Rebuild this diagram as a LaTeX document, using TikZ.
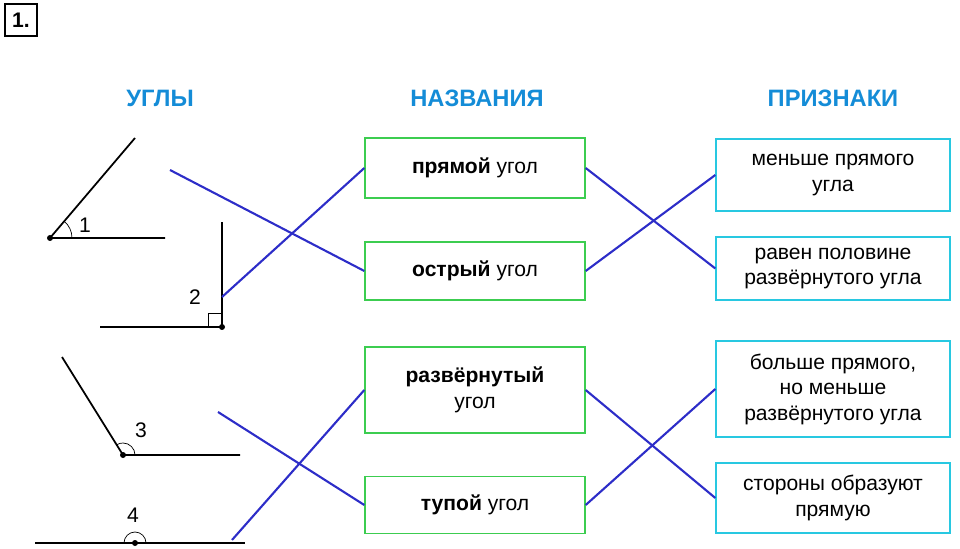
\documentclass[tikz,border=0pt]{standalone}
\usepackage{fontspec}
\setmainfont{Liberation Sans}
\usepackage{xcolor}
\definecolor{hdrblue}{RGB}{20,140,215}
\definecolor{boxgreen}{RGB}{60,205,80}
\definecolor{boxcyan}{RGB}{40,200,225}
\definecolor{linkblue}{RGB}{45,45,200}
\begin{document}
\begin{tikzpicture}[
    x=0.02cm, y=0.02cm,
    font=\fontsize{12}{14.5}\selectfont,
    hdr/.style={font=\fontsize{13.5}{15}\selectfont\bfseries, text=hdrblue},
    namebox/.style={draw=boxgreen, thick, fill=white, minimum width=4.4cm, align=center},
    signbox/.style={draw=boxcyan, thick, fill=white, minimum width=4.68cm, align=center},
    link/.style={draw=linkblue, line width=1.2pt},
    ray/.style={line width=1pt},
]
\useasboundingbox (0,0) rectangle (960,548);

% Task number
\node[draw, thick, minimum width=0.64cm, minimum height=0.64cm, inner sep=0pt,
      font=\large\bfseries] (num) at (21,528) {1.};

% Headers
\node[hdr] (hAngles) at (160,450) {УГЛЫ};
\node[hdr] (hNames) at (477,450) {НАЗВАНИЯ};
\node[hdr] (hSigns) at (833,450) {ПРИЗНАКИ};

% Names
\node[namebox, minimum height=1.2cm] (right) at (475,380) {\textbf{прямой} угол};
\node[namebox, minimum height=1.16cm] (acute) at (475,277) {\textbf{острый} угол};
\node[namebox, minimum height=1.72cm] (straight) at (475,158) {\textbf{развёрнутый}\\угол};
\node[namebox, minimum height=1.14cm] (obtuse) at (475,43) {\textbf{тупой} угол};

% Signs
\node[signbox, minimum height=1.44cm] (less) at (833,373) {меньше прямого\\угла};
\node[signbox, minimum height=1.26cm] (half) at (833,279.5) {равен половине\\развёрнутого угла};
\node[signbox, minimum height=1.92cm] (more) at (833,159) {больше прямого,\\но меньше\\развёрнутого угла};
\node[signbox, minimum height=1.4cm] (sides) at (833,50) {стороны образуют\\прямую};

% Angle 1
\coordinate (v1) at (50,310);
\draw[ray] (165,310) -- (v1) -- (135,410);
\draw (72,310) arc (0:50:22);
\fill (v1) circle (3);
\node at (85,323) {1};
\coordinate (a1) at (170,378);

% Angle 2
\coordinate (v2) at (222,221);
\draw[ray] (100,221) -- (v2) -- (222,326);
\draw (222,235) -| (208,221);
\fill (v2) circle (3);
\node at (195,251) {2};
\coordinate (a2) at (222,251);

% Angle 3
\coordinate (v3) at (123,93);
\draw[ray] (240,93) -- (v3) -- (62,191);
\draw (135,93) arc (0:122:12);
\fill (v3) circle (3);
\node at (141,118) {3};
\coordinate (a3) at (218,136);

% Angle 4
\coordinate (v4) at (135,5);
\draw[ray] (35,5) -- (245,5);
\draw (146,5) arc (0:180:11);
\fill (v4) circle (3);
\node at (133,33) {4};
\coordinate (a4) at (232,8);

% Links
\draw[link] (a1) -- (acute.west);
\draw[link] (a2) -- (right.west);
\draw[link] (a3) -- (obtuse.west);
\draw[link] (a4) -- (straight.west);
\draw[link] (right.east) -- (half.west);
\draw[link] (acute.east) -- (less.west);
\draw[link] (straight.east) -- (sides.west);
\draw[link] (obtuse.east) -- (more.west);

\end{tikzpicture}
\end{document}
